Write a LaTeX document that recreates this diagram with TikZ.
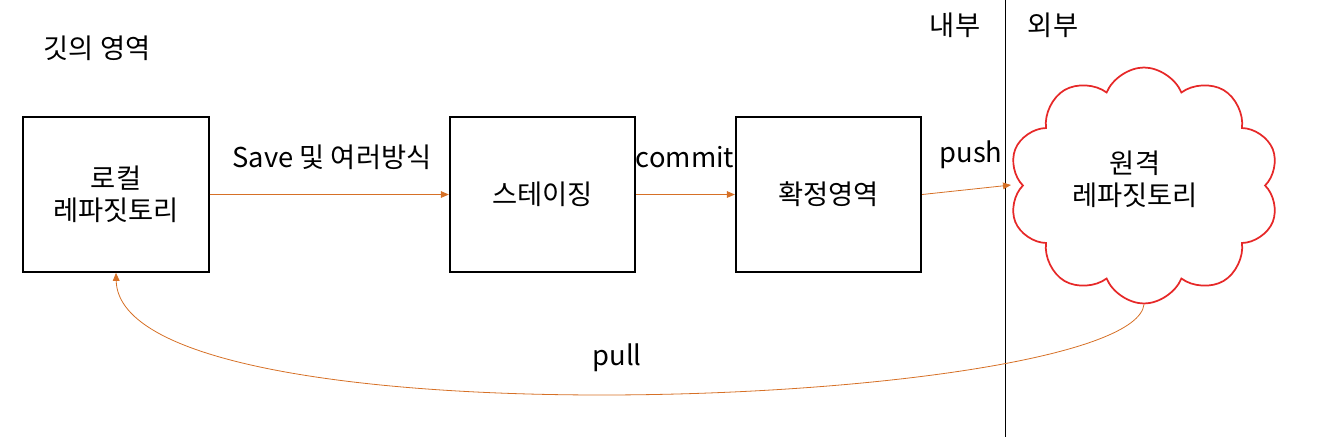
\documentclass[tikz,border=0pt]{standalone}
\usepackage{fontspec}
\setmainfont{Noto Sans CJK KR}
\usetikzlibrary{shapes.symbols,arrows.meta}
\definecolor{arr}{RGB}{214,112,38}
\definecolor{cloudred}{RGB}{230,40,40}
\begin{document}
\begin{tikzpicture}[x=0.75pt,y=-0.75pt,
  every node/.style={font=\fontsize{20.5}{24}\selectfont, inner sep=0pt},
  stagebox/.style={draw=black, line width=1.5pt, minimum width=139pt, minimum height=116pt, align=center},
  flow/.style={draw=arr, line width=0.6pt, -{Triangle[length=6pt,width=5pt]}},
  lbl/.style={anchor=center}]
\useasboundingbox (0,0) rectangle (1323,437);
\node[stagebox] (local) at (116,194.5) {로컬\\레파짓토리};
\node[stagebox] (stage) at (542.5,194.5) {스테이징};
\node[stagebox] (commitbox) at (828.5,194.5) {확정영역};
\node[cloud, cloud puffs=10, cloud puff arc=135, aspect=1.15, draw=cloudred, line width=1.3pt,
      minimum width=203pt, minimum height=177pt] (remote) at (1144,185.5) {};
\node[lbl, align=center] (remotetxt) at (1135,179) {원격\\레파짓토리};
\coordinate (pushend) at (1011,185);
\coordinate (divtop) at (1005,0);
\coordinate (divbot) at (1005,437);
\draw[black, line width=0.6pt] (divtop) -- (divbot);
\node[lbl] (inner) at (955,25) {내부};
\node[lbl] (outer) at (1053,25) {외부};
\node[lbl] (title) at (97,48) {깃의 영역};
\draw[flow] (local.east) -- (stage.west);
\node[lbl] (savelbl) at (332,157) {Save 및 여러방식};
\draw[flow] (stage.east) -- (commitbox.west);
\node[lbl] (commitlbl) at (685,157) {commit};
\draw[flow] (commitbox.east) -- (pushend);
\node[lbl] (pushlbl) at (971,155) {push};
\draw[flow] (remote.south) .. controls (1132,408) and (120,450) .. (local.south);
\node[lbl] (pulllbl) at (617,358) {pull};
\end{tikzpicture}
\end{document}
